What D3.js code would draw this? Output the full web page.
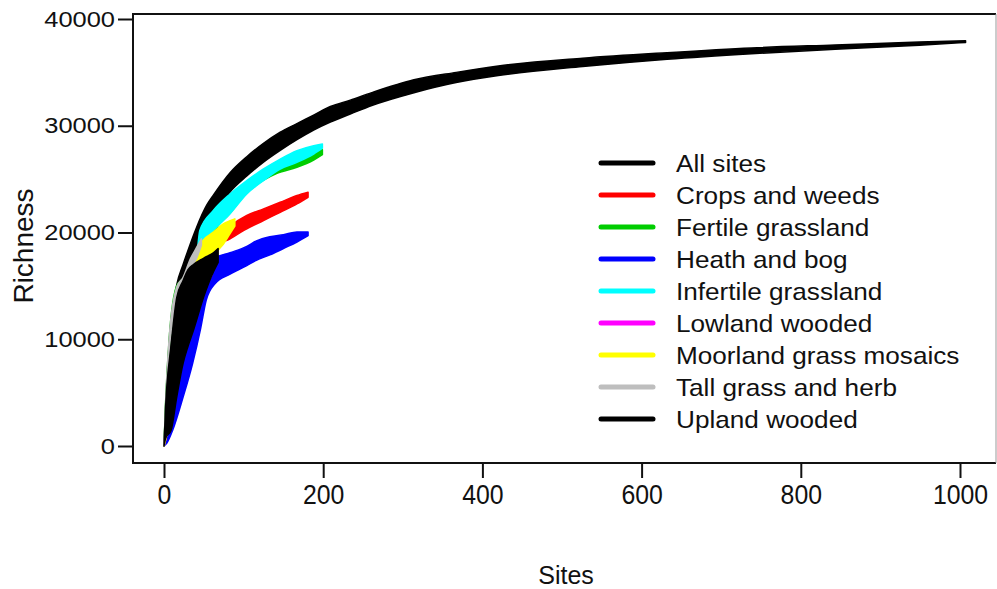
<!DOCTYPE html>
<html>
<head>
<meta charset="utf-8">
<script src="https://cdn.jsdelivr.net/npm/d3@7"></script>
<style>
  body { margin: 0; background: #fff; }
  svg { display: block; font-family: "Liberation Sans", Arial, sans-serif; }
</style>
</head>
<body>
<div id="chart"></div>
<script>
// each row: [sites, lower richness, upper richness]
var allSites = [[0,0,0],[2,2500,3800],[6.7,6500,9900],[16,11000,15100],[24,13500,17000],[30,15000,18300],
  [41,17500,20500],[54,20000,22600],[62,21500,23500],[83,23800,25600],[104,25300,27100],[125,26600,28350],
  [146,27700,29400],[167,28700,30200],[188,29600,31000],[209,30350,31800],[234,31100,32400],[261,31900,33100],
  [314,33100,34300],[367,34050,35000],[420,34700,35600],[526,35550,36330],[632,36230,36850],[738,36750,37290],
  [843,37170,37570],[949,37550,37850],[1007,37800,37970]];
var cropsWeeds = [[0,0,0],[5,1500,3000],[20,6500,12000],[41,12000,16500],[50,15500,17300],[62,17200,18200],
  [66,18630,19500],[83,19410,20600],[104,20340,21590],[125,21120,22210],[146,21900,22830],[167,22680,23460],
  [181,23300,23770]];
var fertileGrass = [[0,0,0],[2,3300,4100],[6.7,9200,10250],[16,13000,15000],[24,14500,15700],[30,15000,16400],
  [40,15500,17000],[50,16000,17500],[60,19500,21800],[83,21800,23300],[104,23700,24500],[125,24900,25600],
  [142,25550,26300],[167,26110,27000],[188,26790,27600],[199,27290,27750]];
var heathBog = [[0,0,0],[3.4,250,2500],[11,1500,6000],[24,4580,11000],[36,7750,14000],[46,11000,15500],
  [53,13650,16500],[64,15200,17600],[83,16100,18100],[104,16900,18700],[116,17400,19200],[133,17900,19600],
  [150,18500,19800],[167,19100,20050],[181,19700,20050]];
var infertileGrass = [[0,0,0],[5,2000,4000],[16,8000,13000],[30,12000,16000],[40,16000,17200],[45,18630,20190],
  [62,20190,22060],[83,21750,23610],[104,23610,24860],[125,24860,25950],[146,25950,26880],[167,26570,27660],
  [188,27350,28130],[199,27900,28290]];
var lowlandWooded = [[0,0,0],[5,1500,5000],[15,5500,12500],[30,10000,16000],[45,13500,17000],[60,16000,17800]];
var moorlandGrass = [[0,0,0],[5,1500,3500],[16,7000,12500],[30,12000,16000],[39,16400,17800],[49,17500,19250],
  [62,18000,20030],[74.5,18900,20810],[83,19900,21100],[89,20600,21280]];
var tallGrassHerb = [[0,0,0],[2,3400,4000],[6.7,9000,10350],[16,13000,14900],[24,15000,15800],[33,16600,17500],
  [41,17600,18600],[47,18800,19400]];
var uplandWooded = [[0,0,0],[2,700,3600],[9,1500,9500],[16,4580,13900],[24,7750,15500],[30,9300,16500],
  [37,10840,17000],[50,14000,17600],[62,16300,18100],[68,17200,18500]];

var seriesNames = ["All sites", "Crops and weeds", "Fertile grassland", "Heath and bog", "Infertile grassland",
  "Lowland wooded", "Moorland grass mosaics", "Tall grass and herb", "Upland wooded"];
var seriesColors = ["#000000", "#ff0000", "#00cd00", "#0000ff", "#00ffff", "#ff00ff", "#ffff00", "#bebebe", "#000000"];
var seriesData = [allSites, cropsWeeds, fertileGrass, heathBog, infertileGrass, lowlandWooded, moorlandGrass,
  tallGrassHerb, uplandWooded];

var xTicks = [0, 200, 400, 600, 800, 1000];
var yTicks = [0, 10000, 20000, 30000, 40000];

var width = 997, height = 589;
var box = { left: 133, right: 996, top: 14, bottom: 463 };

var svg = d3.select("#chart").append("svg")
  .attr("width", width)
  .attr("height", height);

var x = d3.scaleLinear().domain([0, 1000]).range([164, 960]);
var y = d3.scaleLinear().domain([0, 40000]).range([446, 19]);

// bands, drawn in legend order so Upland wooded ends up on top
var area = d3.area()
  .x(function(d) { return x(d[0]); })
  .y0(function(d) { return y(d[1]); })
  .y1(function(d) { return y(d[2]); })
  .curve(d3.curveMonotoneX);

svg.append("g").selectAll("path")
  .data(seriesData)
  .enter().append("path")
  .attr("d", area)
  .attr("fill", function(d, i) { return seriesColors[i]; })
  .attr("stroke", function(d, i) { return seriesColors[i]; })
  .attr("stroke-width", 1.5)
  .attr("stroke-linejoin", "round");

// frame: left, top, bottom dark, right side faint (picture is cut there)
var frame = svg.append("g").attr("fill", "none");
frame.append("path")
  .attr("d", "M" + box.right + "," + box.top + "H" + box.left + "V" + box.bottom + "H" + box.right)
  .attr("stroke", "#111")
  .attr("stroke-width", 2);
frame.append("line")
  .attr("x1", box.right).attr("x2", box.right)
  .attr("y1", box.top).attr("y2", box.bottom)
  .attr("stroke", "#999")
  .attr("stroke-width", 1);

var xAxis = d3.axisBottom(x).tickValues(xTicks).tickSizeInner(15).tickSizeOuter(0).tickPadding(7)
  .tickFormat(d3.format("d"));
var yAxis = d3.axisLeft(y).tickValues(yTicks).tickSizeInner(15).tickSizeOuter(0).tickPadding(3)
  .tickFormat(d3.format("d"));

var gx = svg.append("g")
  .attr("transform", "translate(0," + box.bottom + ")")
  .call(xAxis);
gx.select(".domain").remove();
gx.selectAll("line").attr("stroke", "#111").attr("stroke-width", 2);
gx.selectAll("text")
  .attr("fill", "#111")
  .style("font-size", "27px")
  .attr("transform", "scale(0.92,1)");

var gy = svg.append("g")
  .attr("transform", "translate(" + box.left + ",0)")
  .call(yAxis);
gy.select(".domain").remove();
gy.selectAll("line").attr("stroke", "#111").attr("stroke-width", 2);
gy.selectAll("text")
  .attr("fill", "#111")
  .style("font-size", "22px")
  .attr("x", -18 / 1.157)
  .attr("transform", "scale(1.157,1)");

svg.append("text")
  .attr("x", 566)
  .attr("y", 584)
  .attr("text-anchor", "middle")
  .style("font-size", "25px")
  .attr("fill", "#111")
  .text("Sites");

svg.append("text")
  .attr("transform", "translate(33,246) rotate(-90)")
  .attr("text-anchor", "middle")
  .style("font-size", "28px")
  .attr("fill", "#111")
  .text("Richness");

// legend
var legend = svg.append("g").attr("transform", "translate(601,163)");
var rows = legend.selectAll("g")
  .data(seriesNames)
  .enter().append("g")
  .attr("transform", function(d, i) { return "translate(0," + (i * 32) + ")"; });

rows.append("line")
  .attr("x1", 0).attr("x2", 52)
  .attr("stroke", function(d, i) { return seriesColors[i]; })
  .attr("stroke-width", 5)
  .attr("stroke-linecap", "round");

rows.append("text")
  .attr("transform", "translate(75,0) scale(1.09,1)")
  .attr("dy", "0.36em")
  .style("font-size", "24px")
  .attr("fill", "#111")
  .text(function(d) { return d; });
</script>
</body>
</html>
